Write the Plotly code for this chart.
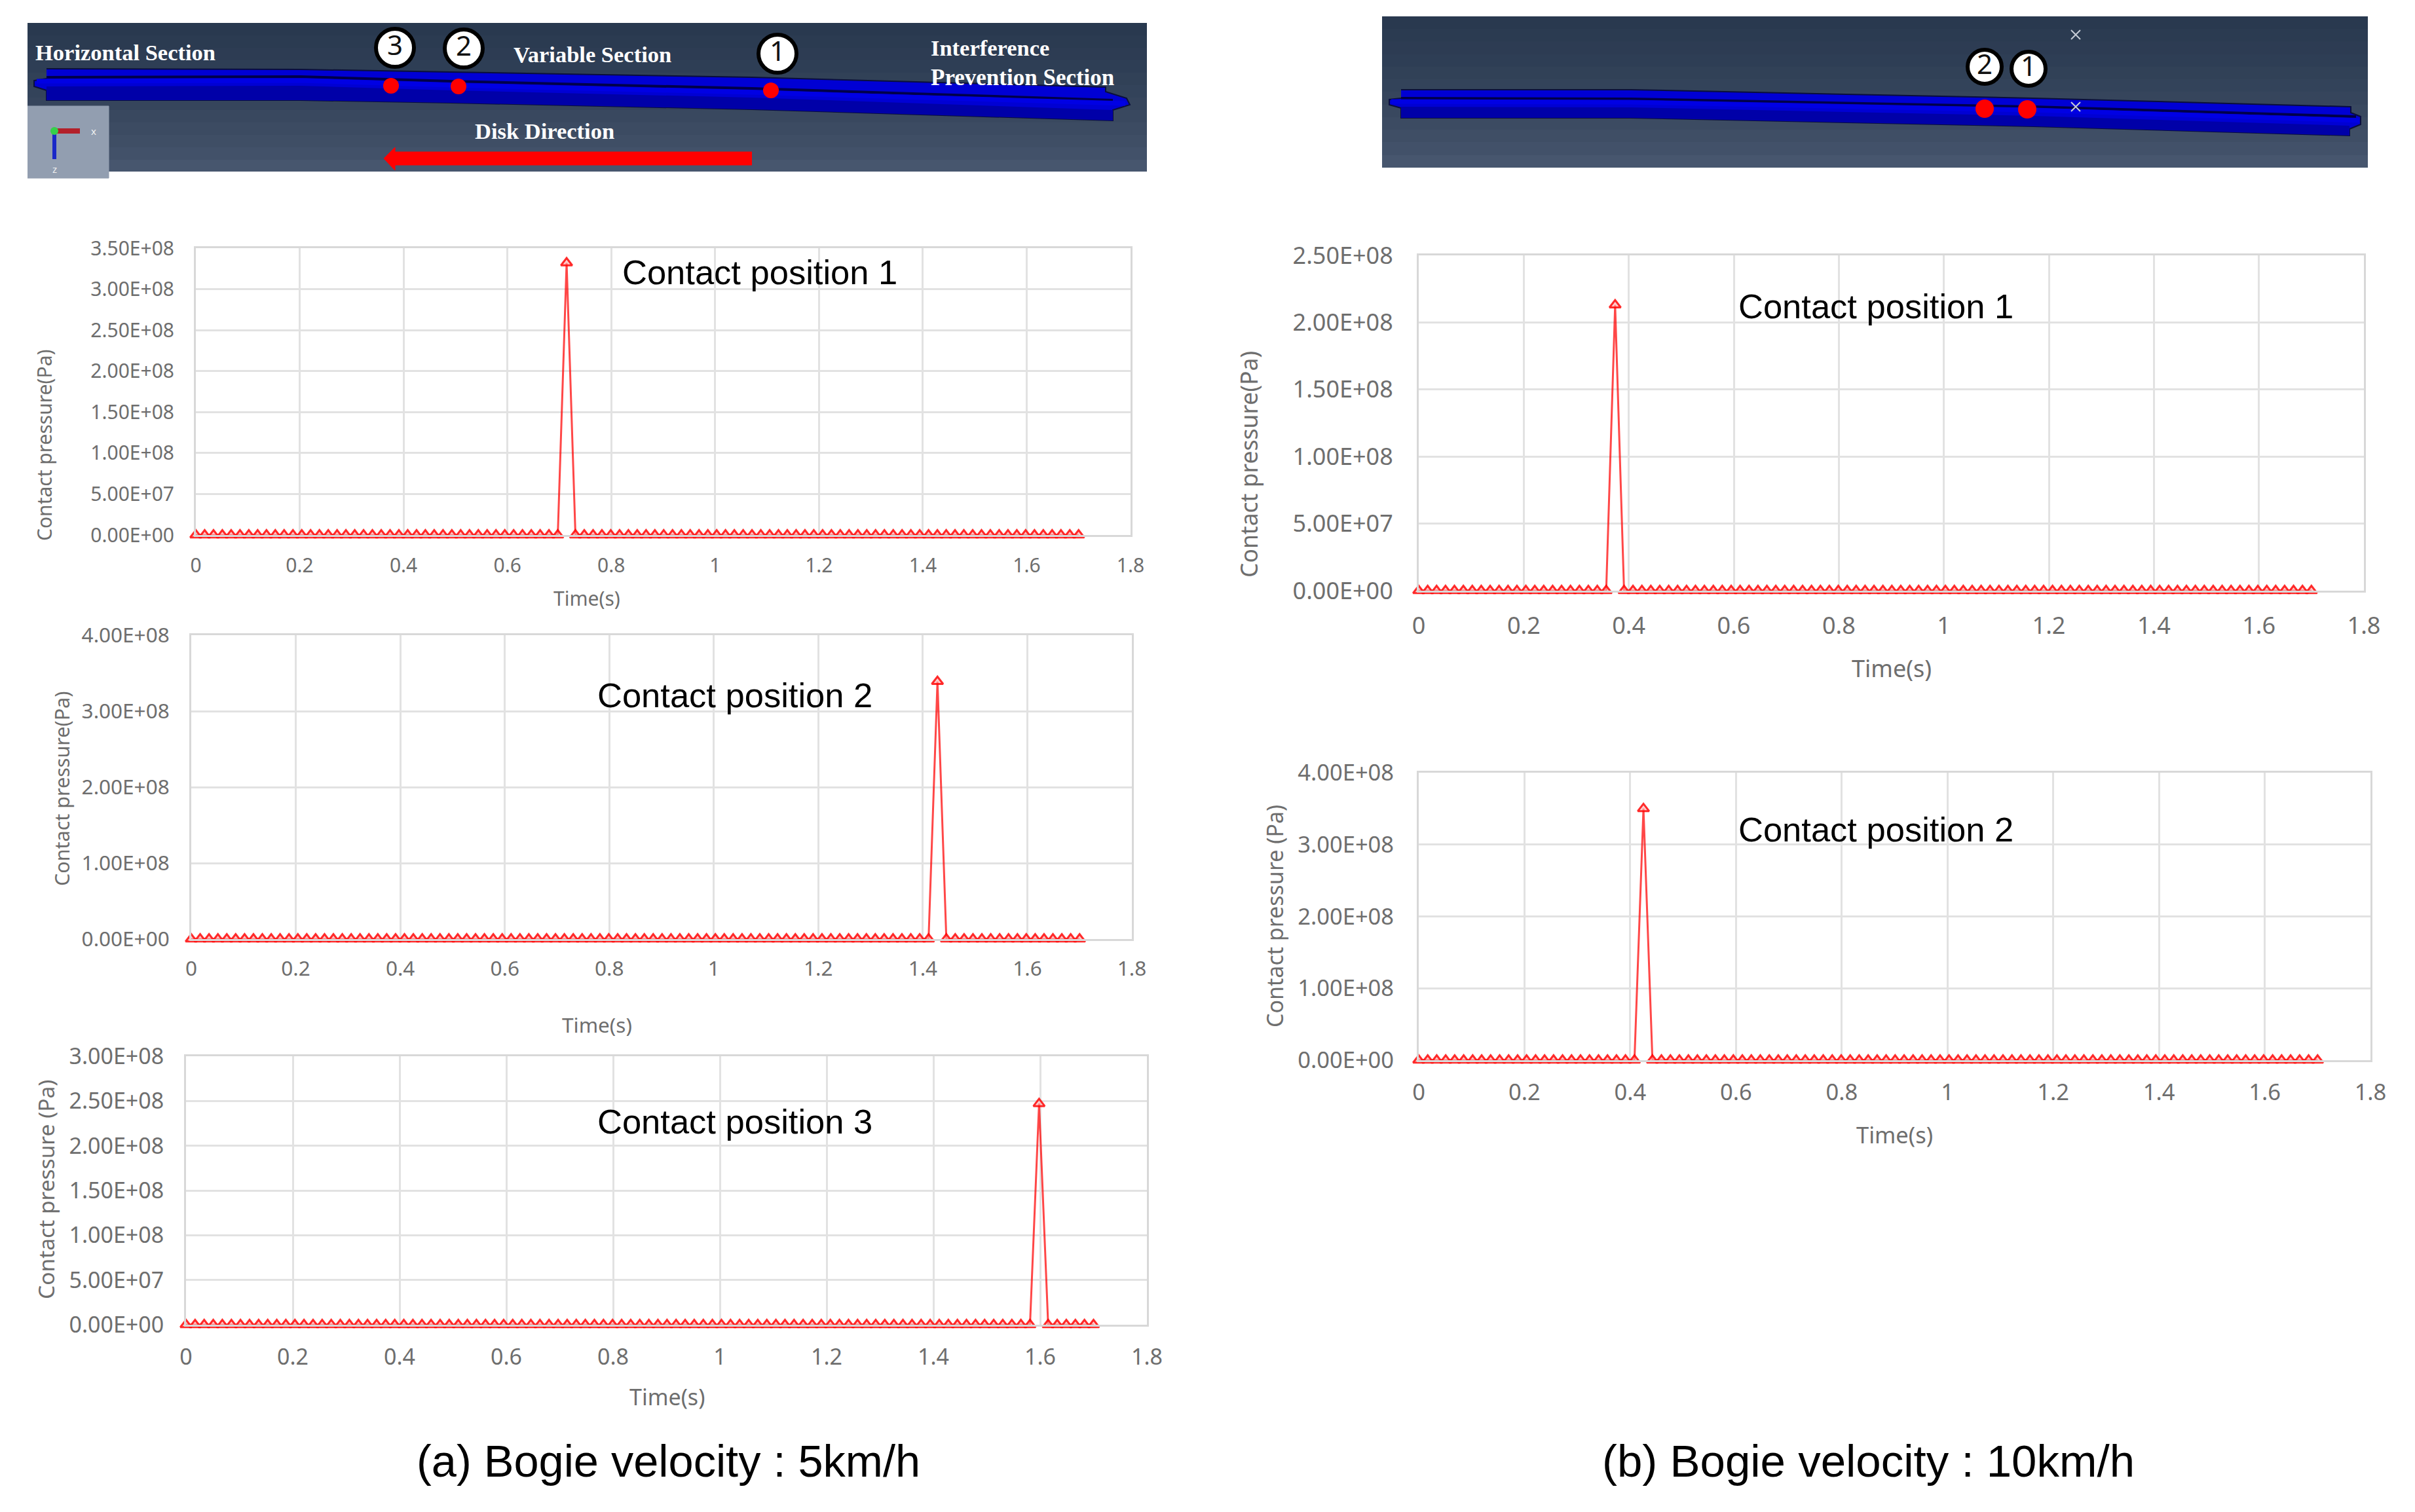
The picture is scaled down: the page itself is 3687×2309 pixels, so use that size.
import plotly.graph_objects as go

W, H = 3687, 2309

# sample times (same for every chart)
time_s = [
    0.000, 0.017, 0.034, 0.051, 0.068, 0.085, 0.102, 0.119, 0.136, 0.153,
    0.170, 0.187, 0.204, 0.221, 0.238, 0.255, 0.272, 0.289, 0.306, 0.323,
    0.340, 0.357, 0.374, 0.391, 0.408, 0.425, 0.442, 0.459, 0.476, 0.493,
    0.510, 0.527, 0.544, 0.561, 0.578, 0.595, 0.612, 0.629, 0.646, 0.663,
    0.680, 0.697, 0.714, 0.731, 0.748, 0.765, 0.782, 0.799, 0.816, 0.833,
    0.850, 0.867, 0.884, 0.901, 0.918, 0.935, 0.952, 0.969, 0.986, 1.003,
    1.020, 1.037, 1.054, 1.071, 1.088, 1.105, 1.122, 1.139, 1.156, 1.173,
    1.190, 1.207, 1.224, 1.241, 1.258, 1.275, 1.292, 1.309, 1.326, 1.343,
    1.360, 1.377, 1.394, 1.411, 1.428, 1.445, 1.462, 1.479, 1.496, 1.513,
    1.530, 1.547, 1.564, 1.581, 1.598, 1.615, 1.632, 1.649, 1.666, 1.683,
    1.700,
]

pressure_a1 = [
    0, 0, 0, 0, 0, 0, 0, 0, 0, 0, 0, 0, 0, 0, 0, 0, 0, 0, 0, 0,
    0, 0, 0, 0, 0, 0, 0, 0, 0, 0, 0, 0, 0, 0, 0, 0, 0, 0, 0, 0,
    0, 0, 3.32e8, 0, 0, 0, 0, 0, 0, 0, 0, 0, 0, 0, 0, 0, 0, 0, 0, 0,
    0, 0, 0, 0, 0, 0, 0, 0, 0, 0, 0, 0, 0, 0, 0, 0, 0, 0, 0, 0,
    0, 0, 0, 0, 0, 0, 0, 0, 0, 0, 0, 0, 0, 0, 0, 0, 0, 0, 0, 0,
    0,
]
pressure_a2 = [
    0, 0, 0, 0, 0, 0, 0, 0, 0, 0, 0, 0, 0, 0, 0, 0, 0, 0, 0, 0,
    0, 0, 0, 0, 0, 0, 0, 0, 0, 0, 0, 0, 0, 0, 0, 0, 0, 0, 0, 0,
    0, 0, 0, 0, 0, 0, 0, 0, 0, 0, 0, 0, 0, 0, 0, 0, 0, 0, 0, 0,
    0, 0, 0, 0, 0, 0, 0, 0, 0, 0, 0, 0, 0, 0, 0, 0, 0, 0, 0, 0,
    0, 0, 0, 0, 3.39e8, 0, 0, 0, 0, 0, 0, 0, 0, 0, 0, 0, 0, 0, 0, 0,
    0,
]
pressure_a3 = [
    0, 0, 0, 0, 0, 0, 0, 0, 0, 0, 0, 0, 0, 0, 0, 0, 0, 0, 0, 0,
    0, 0, 0, 0, 0, 0, 0, 0, 0, 0, 0, 0, 0, 0, 0, 0, 0, 0, 0, 0,
    0, 0, 0, 0, 0, 0, 0, 0, 0, 0, 0, 0, 0, 0, 0, 0, 0, 0, 0, 0,
    0, 0, 0, 0, 0, 0, 0, 0, 0, 0, 0, 0, 0, 0, 0, 0, 0, 0, 0, 0,
    0, 0, 0, 0, 0, 0, 0, 0, 0, 0, 0, 0, 0, 0, 2.47e8, 0, 0, 0, 0, 0,
    0,
]
pressure_b1 = [
    0, 0, 0, 0, 0, 0, 0, 0, 0, 0, 0, 0, 0, 0, 0, 0, 0, 0, 0, 0,
    0, 0, 2.13e8, 0, 0, 0, 0, 0, 0, 0, 0, 0, 0, 0, 0, 0, 0, 0, 0, 0,
    0, 0, 0, 0, 0, 0, 0, 0, 0, 0, 0, 0, 0, 0, 0, 0, 0, 0, 0, 0,
    0, 0, 0, 0, 0, 0, 0, 0, 0, 0, 0, 0, 0, 0, 0, 0, 0, 0, 0, 0,
    0, 0, 0, 0, 0, 0, 0, 0, 0, 0, 0, 0, 0, 0, 0, 0, 0, 0, 0, 0,
    0,
]
pressure_b2 = [
    0, 0, 0, 0, 0, 0, 0, 0, 0, 0, 0, 0, 0, 0, 0, 0, 0, 0, 0, 0,
    0, 0, 0, 0, 0, 3.5e8, 0, 0, 0, 0, 0, 0, 0, 0, 0, 0, 0, 0, 0, 0,
    0, 0, 0, 0, 0, 0, 0, 0, 0, 0, 0, 0, 0, 0, 0, 0, 0, 0, 0, 0,
    0, 0, 0, 0, 0, 0, 0, 0, 0, 0, 0, 0, 0, 0, 0, 0, 0, 0, 0, 0,
    0, 0, 0, 0, 0, 0, 0, 0, 0, 0, 0, 0, 0, 0, 0, 0, 0, 0, 0, 0,
    0,
]

time_ticks = [0, 0.2, 0.4, 0.6, 0.8, 1, 1.2, 1.4, 1.6, 1.8]
time_labels = ["0", "0.2", "0.4", "0.6", "0.8", "1", "1.2", "1.4", "1.6", "1.8"]

ticks_350 = [0, 5e7, 1e8, 1.5e8, 2e8, 2.5e8, 3e8, 3.5e8]
labels_350 = ["0.00E+00", "5.00E+07", "1.00E+08", "1.50E+08", "2.00E+08", "2.50E+08", "3.00E+08", "3.50E+08"]
ticks_400 = [0, 1e8, 2e8, 3e8, 4e8]
labels_400 = ["0.00E+00", "1.00E+08", "2.00E+08", "3.00E+08", "4.00E+08"]
ticks_300 = [0, 5e7, 1e8, 1.5e8, 2e8, 2.5e8, 3e8]
labels_300 = ["0.00E+00", "5.00E+07", "1.00E+08", "1.50E+08", "2.00E+08", "2.50E+08", "3.00E+08"]
ticks_250 = [0, 5e7, 1e8, 1.5e8, 2e8, 2.5e8]
labels_250 = ["0.00E+00", "5.00E+07", "1.00E+08", "1.50E+08", "2.00E+08", "2.50E+08"]

# rail drawings in image pixels
panel_a_x = [42, 1751]
panel_a_y = [35, 54, 73, 92, 111, 130, 149, 168, 187, 206, 225, 244, 262]
panel_b_x = [2110, 3615]
panel_b_y = [25, 44, 63, 83, 102, 121, 140, 160, 179, 198, 217, 237, 256]
panel_shade = [[0.0], [0.06], [0.12], [0.18], [0.26], [0.34], [0.42], [0.52], [0.62], [0.72], [0.84], [1.0]]

rail_a_x = [71, 459, 689, 1148, 1688, 1688, 1720, 1725, 1699, 1699, 1148, 689, 459, 71, 71, 52, 52, 71]
rail_a_y = [105, 106, 110, 118, 133, 140, 150, 160, 168, 184, 167, 157, 153, 153, 138, 132, 123, 120]
lower_a_x = [71, 459, 689, 1148, 1699, 1699, 1148, 689, 459, 71]
lower_a_y = [132, 131, 138, 149, 168, 184, 167, 157, 153, 153]
groove_a_x = [71, 459, 689, 1148, 1699]
groove_a_y = [118, 117, 124, 135, 153]
head_a_x = [56, 459, 689, 1148, 1718]
head_a_y = [124, 123, 130, 141, 158]

rail_b_x = [2139, 2490, 3105, 3589, 3589, 3604, 3604, 3587, 3587, 3105, 2490, 2139, 2139, 2121, 2121, 2139]
rail_b_y = [137, 137, 150, 163, 172, 178, 190, 197, 207, 193, 180, 180, 165, 160, 152, 150]
lower_b_x = [2139, 2490, 3105, 3587, 3587, 3105, 2490, 2139]
lower_b_y = [163, 164, 177, 192, 207, 193, 180, 180]
groove_b_x = [2139, 2490, 3105, 3597]
groove_b_y = [150, 151, 163, 178]
head_b_x = [2124, 2490, 3105, 3602]
head_b_y = [155, 156, 168, 184]

dots_a_x = [597, 700, 1177]
dots_a_y = [131, 132, 138]
badges_a_x = [603, 708, 1187]
badges_a_y = [73, 74, 82]
badges_a_text = ["3", "2", "1"]
dots_b_x = [3030, 3095]
dots_b_y = [166, 167]
badges_b_x = [3030, 3097]
badges_b_y = [102, 105]
badges_b_text = ["2", "1"]
cross_b_x = [3169, 3169]
cross_b_y = [53, 163]

arrow_x = [1148, 603, 603, 586, 603, 603, 1148]
arrow_y = [232, 232, 225, 242, 260, 252, 252]
triad_box_x = [42, 166, 166, 42]
triad_box_y = [162, 162, 272, 272]
triad_red_x = [83, 122]
triad_red_y = [200, 200]
triad_blue_x = [83, 83]
triad_blue_y = [205, 243]

charts = [
    dict(box=(299, 1726, 379, 817), y=pressure_a1, top=3.5e8, ticks=ticks_350, labels=labels_350, size=30,
         ytitle="Contact pressure(Pa)", ytitle_at=(67, 680), ytitle_size=30, xtitle_at=(896, 913),
         name="Contact position 1", name_at=(948, 415), gap=24, xgap=18),
    dict(box=(292, 1728, 970, 1434), y=pressure_a2, top=4e8, ticks=ticks_400, labels=labels_400, size=31.5,
         ytitle="Contact pressure(Pa)", ytitle_at=(94, 1205), ytitle_size=30.5, xtitle_at=(911, 1565),
         name="Contact position 2", name_at=(910, 1061), gap=24, xgap=15),
    dict(box=(284, 1751, 1613, 2023), y=pressure_a3, top=3e8, ticks=ticks_300, labels=labels_300, size=34,
         ytitle="Contact pressure (Pa)", ytitle_at=(70, 1817), ytitle_size=33.5, xtitle_at=(1018, 2133),
         name="Contact position 3", name_at=(910, 1712), gap=24, xgap=17),
    dict(box=(2166, 3609, 390, 902), y=pressure_b1, top=2.5e8, ticks=ticks_250, labels=labels_250, size=36,
         ytitle="Contact pressure(Pa)", ytitle_at=(1906, 709), ytitle_size=35.5, xtitle_at=(2888, 1021),
         name="Contact position 1", name_at=(2652, 468), gap=29, xgap=20),
    dict(box=(2166, 3619, 1180, 1619), y=pressure_b2, top=4e8, ticks=ticks_400, labels=labels_400, size=34.5,
         ytitle="Contact pressure (Pa)", ytitle_at=(1946, 1399), ytitle_size=34, xtitle_at=(2892, 1732),
         name="Contact position 2", name_at=(2652, 1266), gap=28, xgap=17),
]

GREY = "#6e6e6e"
RED_LINE = "rgba(255,0,0,0.72)"
RED_MARK = "rgba(255,0,0,0.82)"
SERIF = "Liberation Serif"
SANS = "Liberation Sans"
UI = "Noto Sans"

notes = []


def note(x, y, text, size, color="#000000", family=SANS, anchor="center", angle=0):
    notes.append(dict(x=x / W, y=1 - y / H, xref="paper", yref="paper", text=text, showarrow=False,
                      xanchor=anchor, yanchor="middle", textangle=angle,
                      font=dict(size=size, color=color, family=family)))


fig = go.Figure()
layout_axes = {}

for i, c in enumerate(charts, start=1):
    left, right, top, bottom = c["box"]
    fig.add_trace(go.Scatter(
        x=time_s, y=c["y"], mode="lines+markers", xaxis=f"x{i}", yaxis=f"y{i}", cliponaxis=False,
        line=dict(color=RED_LINE, width=3),
        marker=dict(symbol="triangle-up", size=15, color="rgba(255,170,170,0.6)",
                    line=dict(color=RED_MARK, width=3)),
        showlegend=False, hoverinfo="skip"))
    layout_axes[f"xaxis{i}"] = dict(
        domain=[left / W, right / W], anchor=f"y{i}", range=[0, 1.8], automargin=False,
        tickmode="array", tickvals=time_ticks, ticktext=time_labels,
        ticks="outside", ticklen=c["xgap"], tickcolor="rgba(0,0,0,0)",
        tickfont=dict(size=c["size"], color=GREY, family=UI),
        showgrid=True, gridcolor="#e2e2e2", gridwidth=2.5, zeroline=False,
        showline=True, linecolor="#d8d8d8", linewidth=2.5, mirror=True)
    layout_axes[f"yaxis{i}"] = dict(
        domain=[1 - bottom / H, 1 - top / H], anchor=f"x{i}", range=[0, c["top"]], automargin=False,
        tickmode="array", tickvals=c["ticks"], ticktext=c["labels"],
        ticks="outside", ticklen=c["gap"], tickcolor="rgba(0,0,0,0)",
        tickfont=dict(size=c["size"], color=GREY, family=UI),
        showgrid=True, gridcolor="#e2e2e2", gridwidth=2.5, zeroline=False,
        showline=True, linecolor="#d8d8d8", linewidth=3, mirror=True)
    note(*c["ytitle_at"], c["ytitle"], c["ytitle_size"], GREY, UI, angle=-90)
    note(*c["xtitle_at"], "Time(s)", c["size"], GREY, UI)
    note(*c["name_at"], c["name"], 52.5, anchor="left")

note(1020, 2231, "(a) Bogie velocity : 5km/h", 68.5)
note(2852, 2231, "(b) Bogie velocity : 10km/h", 69)

# overlay axes in image pixels for the two rail screenshots
layout_axes["xaxis6"] = dict(domain=[0, 1], range=[0, W], visible=False, anchor="y6", fixedrange=True, automargin=False)
layout_axes["yaxis6"] = dict(domain=[0, 1], range=[H, 0], visible=False, anchor="x6", fixedrange=True, automargin=False)


def art(x, y, **kw):
    kw.setdefault("mode", "lines")
    fig.add_trace(go.Scatter(x=x, y=y, xaxis="x6", yaxis="y6", showlegend=False, hoverinfo="skip", **kw))


shade_scale = [[0, "#29394f"], [1, "#47566e"]]
for px, py in [(panel_a_x, panel_a_y), (panel_b_x, panel_b_y)]:
    fig.add_trace(go.Heatmap(x=px, y=py, z=panel_shade, xaxis="x6", yaxis="y6", colorscale=shade_scale,
                             zmin=0, zmax=1, showscale=False, hoverinfo="skip"))

rails = [
    (rail_a_x, rail_a_y, lower_a_x, lower_a_y, groove_a_x, groove_a_y, head_a_x, head_a_y),
    (rail_b_x, rail_b_y, lower_b_x, lower_b_y, groove_b_x, groove_b_y, head_b_x, head_b_y),
]
for rx, ry, lx, ly, gx, gy, hx, hy in rails:
    art(rx, ry, fill="toself", fillcolor="#0000d4", line=dict(color="#0a0f3c", width=2))
    art(lx, ly, fill="toself", fillcolor="#0000a8", line=dict(color="rgba(0,0,0,0)", width=0))
    art(gx, gy, line=dict(color="#00004a", width=4))
    art(hx, hy, line=dict(color="#0000e4", width=7))

art(arrow_x, arrow_y, fill="toself", fillcolor="#ff0000", line=dict(color="#ff0000", width=1))
art(triad_box_x, triad_box_y, fill="toself", fillcolor="#929eb0", line=dict(color="#929eb0", width=1))
art(triad_red_x, triad_red_y, line=dict(color="#b3202a", width=8))
art(triad_blue_x, triad_blue_y, line=dict(color="#1a28c8", width=6))
art([83], [200], mode="markers", marker=dict(color="#35d04a", size=12))
note(143, 200, "x", 15, "#f0f0f0", UI)
note(83, 258, "z", 15, "#f0f0f0", UI)

art(dots_a_x, dots_a_y, mode="markers", marker=dict(color="#ff0000", size=24))
art(dots_b_x, dots_b_y, mode="markers", marker=dict(color="#ff0000", size=28))
art(cross_b_x, cross_b_y, mode="markers",
    marker=dict(symbol="x-thin", size=14, line=dict(color="#c6ccd6", width=2)))
art(badges_a_x, badges_a_y, mode="markers+text", text=badges_a_text, textposition="middle center",
    textfont=dict(size=42, color="#111111", family=UI),
    marker=dict(color="#ffffff", size=58, line=dict(color="#000000", width=6)))
art(badges_b_x, badges_b_y, mode="markers+text", text=badges_b_text, textposition="middle center",
    textfont=dict(size=42, color="#111111", family=UI),
    marker=dict(color="#ffffff", size=52, line=dict(color="#000000", width=6)))

note(52, 80, "Horizontal Section", 34.5, "#ffffff", SERIF + ", serif", "left")
note(782, 83, "Variable Section", 34.5, "#ffffff", SERIF + ", serif", "left")
note(1419, 73, "Interference", 34.5, "#ffffff", SERIF + ", serif", "left")
note(1419, 118, "Prevention Section", 35, "#ffffff", SERIF + ", serif", "left")
note(723, 200, "Disk Direction", 34.5, "#ffffff", SERIF + ", serif", "left")
for n in notes:
    if n["font"]["family"].startswith(SERIF):
        n["text"] = "<b>" + n["text"] + "</b>"

fig.update_layout(
    width=W, height=H, autosize=False, showlegend=False,
    margin=dict(l=0, r=0, t=0, b=0, autoexpand=False), paper_bgcolor="#ffffff", plot_bgcolor="rgba(0,0,0,0)",
    annotations=notes, **layout_axes)

# the page keeps the browser's default body margin otherwise
fig.write_html("out.html", config={"displayModeBar": False}, post_script="document.body.style.margin = '0';")
